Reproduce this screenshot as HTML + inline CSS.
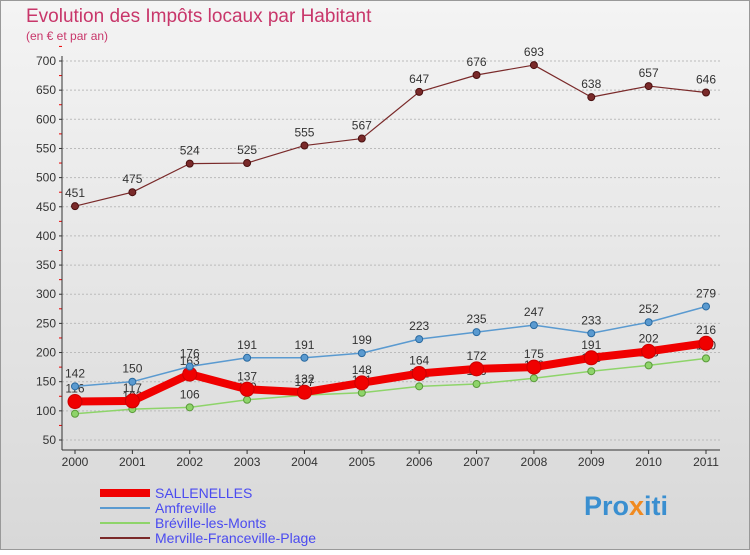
<!DOCTYPE html>
<html><head><meta charset="utf-8"><style>
body{margin:0;width:750px;height:550px;overflow:hidden;font-family:"Liberation Sans",sans-serif}
</style></head><body>
<svg id="c" width="750" height="550" xmlns="http://www.w3.org/2000/svg">
<defs><linearGradient id="bg" x1="0" y1="0" x2="0" y2="1"><stop offset="0" stop-color="#f4f4f4"/><stop offset="1" stop-color="#d8d8d8"/></linearGradient></defs>
<rect x="0.5" y="0.5" width="749" height="549" fill="url(#bg)" stroke="#999"/>
<text x="26" y="22" font-size="19" fill="#c8366a">Evolution des Impôts locaux par Habitant</text>
<text x="26" y="40" font-size="12" fill="#c8366a">(en € et par an)</text>
<g id="axes"></g><g id="series"></g><g id="legend"></g>
<text x="584" y="515" font-size="27" font-weight="bold" fill="#3a8fd0">Pro<tspan fill="#f08a20">x</tspan>iti</text>
</svg>
<script>
const years=['2000','2001','2002','2003','2004','2005','2006','2007','2008','2009','2010','2011'];
const yTicks=[50,100,150,200,250,300,350,400,450,500,550,600,650,700];
const sallenelles=[116,117,163,137,132,148,164,172,175,191,202,216];
const amfreville=[142,150,176,191,191,199,223,235,247,233,252,279];
const breville=[95,103,106,119,127,131,142,146,156,168,178,190];
const merville=[451,475,524,525,555,567,647,676,693,638,657,646];
const NS='http://www.w3.org/2000/svg';
const X0=62,X1=720,Y0=440,Y1=61;
const xs=i=>75+i*(706-75)/(years.length-1);
const ys=v=>Y0-(v-50)*(Y0-Y1)/650;
function mk(t,a,p){const e=document.createElementNS(NS,t);for(const k in a)e.setAttribute(k,a[k]);p.appendChild(e);return e;}
const ax=document.getElementById('axes');
yTicks.forEach(v=>{const g=mk('line',{x1:X0,x2:X1,y1:ys(v),y2:ys(v),stroke:'#bbb','stroke-dasharray':'2,2'},ax);

const t=mk('text',{x:X0-6,y:ys(v)+4,'font-size':12,'text-anchor':'end',fill:'#333'},ax);t.textContent=v;

mk('line',{x1:X0-3,x2:X0,y1:ys(v),y2:ys(v),stroke:'#333'},ax);
mk('line',{x1:X0-3,x2:X0,y1:ys(v+25),y2:ys(v+25),stroke:'#e00'},ax);});
const axl=mk('line',{x1:X0,x2:X0,y1:Y1-5,y2:Y0+10,stroke:'#333'},ax);
const bxl=mk('line',{x1:X0,x2:X1,y1:Y0+10,y2:Y0+10,stroke:'#333'},ax);
years.forEach((y,i)=>{mk('line',{x1:xs(i),x2:xs(i),y1:Y0+10,y2:Y0+14,stroke:'#333'},ax);
const t=mk('text',{x:xs(i),y:Y0+26,'font-size':12,'text-anchor':'middle',fill:'#333'},ax);t.textContent=y;
});
const S=document.getElementById('series');
function draw(vals,color,w,r,name,dark){
const g=mk('g',{},S);
const pl=mk('polyline',{points:vals.map((v,i)=>xs(i)+','+ys(v)).join(' '),fill:'none',stroke:color,'stroke-width':w,'stroke-linejoin':'round'},g);

vals.forEach((v,i)=>{const c=mk('circle',{cx:xs(i),cy:ys(v),r:r,fill:color,stroke:dark,'stroke-width':1},g);

const t=mk('text',{x:xs(i),y:ys(v)-9,'font-size':12,'text-anchor':'middle',fill:'#333'},g);t.textContent=v;
});}
draw(merville,'#7a2a2a',1.2,3.5,'merville-series','#4a1010');
draw(breville,'#8ed46a',1.5,3.5,'breville-series','#5a9a3a');
draw(sallenelles,'#f00000',8,7,'sallenelles-series','#c00');
draw(amfreville,'#5a9ad0',1.5,3.5,'amfreville-series','#2a6aa0');
const L=document.getElementById('legend');
[['SALLENELLES','#f00000',8],['Amfreville','#5a9ad0',2],['Bréville-les-Monts','#8ed46a',2],['Merville-Franceville-Plage','#7a2a2a',2]].forEach((e,i)=>{
const y=493+i*15;const g=mk('g',{},L);
mk('line',{x1:100,x2:150,y1:y,y2:y,stroke:e[1],'stroke-width':e[2]},g);
const t=mk('text',{x:155,y:y+5,'font-size':14,fill:'#4a4af0'},g);t.textContent=e[0];});
</script>
</body></html>
